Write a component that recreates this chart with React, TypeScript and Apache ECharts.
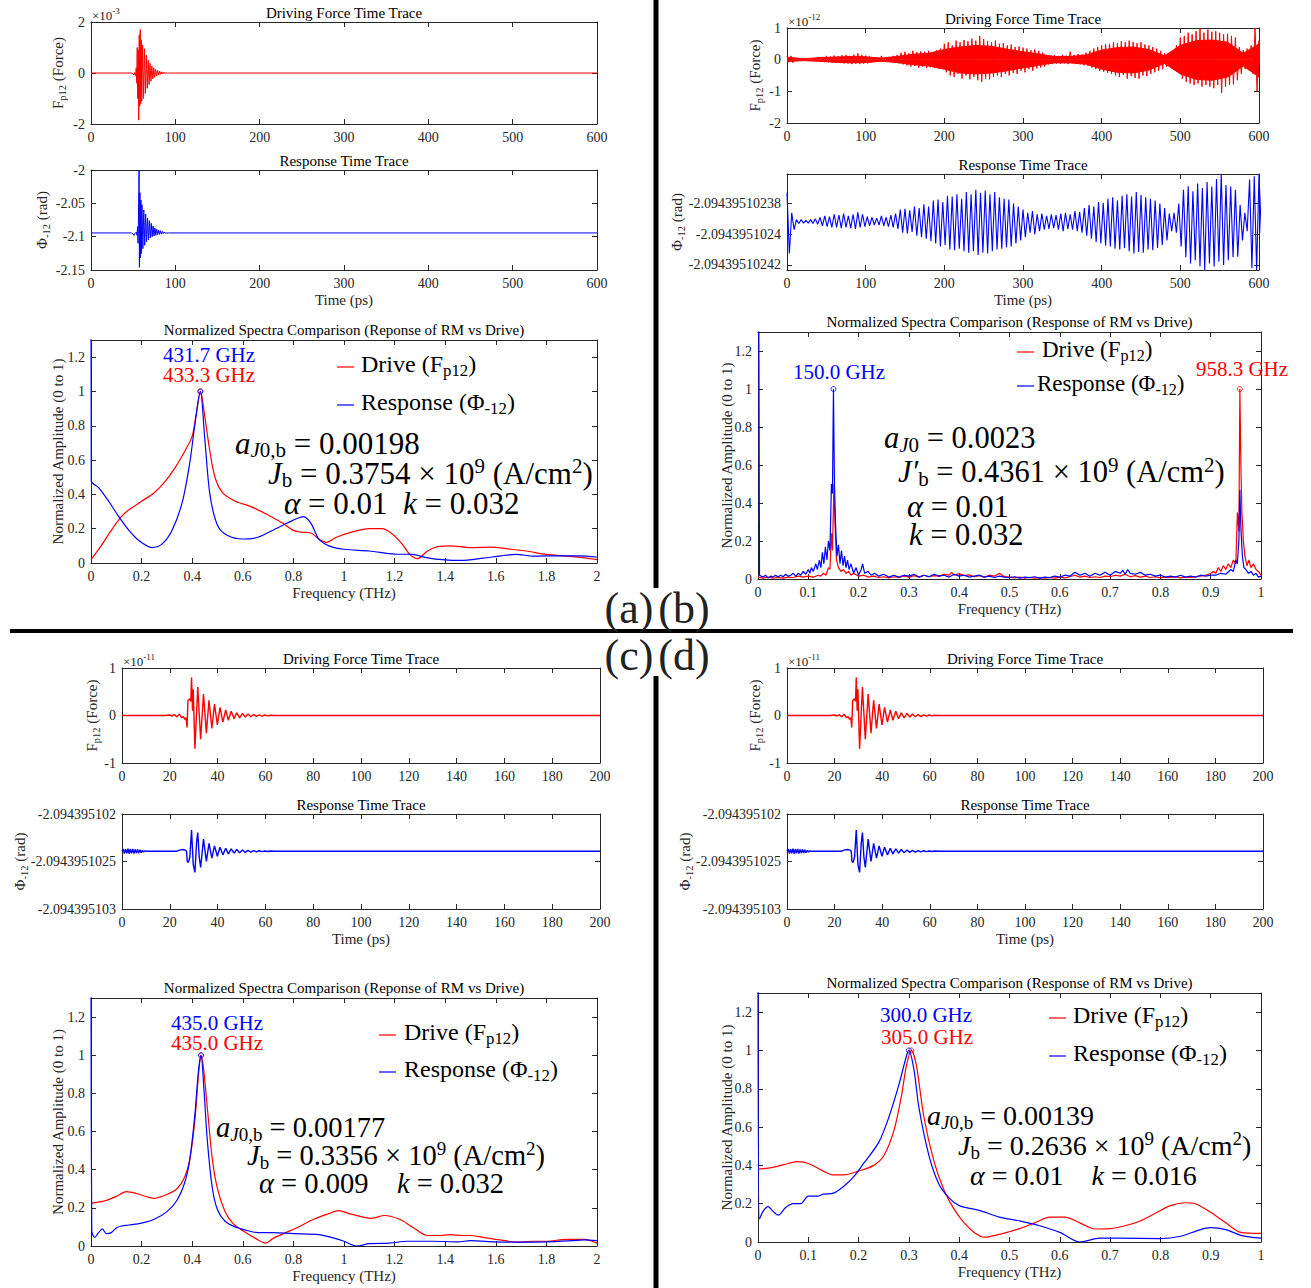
import React, { useEffect, useRef } from "react";
import * as echarts from "echarts";

const SERIF = "'Liberation Serif', 'Times New Roman', Times, serif";
const AXIS_COLOR = "#262626";
const RED = "#ff0000";
const BLUE = "#0000ff";

// ================= DATA =================
const AMP_TICKS = [0, 0.2, 0.4, 0.6, 0.8, 1, 1.2];
const FREQ2_TICKS = [0, 0.2, 0.4, 0.6, 0.8, 1, 1.2, 1.4, 1.6, 1.8, 2];
const FREQ1_TICKS = [0, 0.1, 0.2, 0.3, 0.4, 0.5, 0.6, 0.7, 0.8, 0.9, 1];
const TIME600_TICKS = [0, 100, 200, 300, 400, 500, 600];
const TIME200_TICKS = [0, 20, 40, 60, 80, 100, 120, 140, 160, 180, 200];

// ---- panel (a) ----
const A_FORCE_TICKS = [-2, 0, 2]; // x1e-3
const A_RESP_TICKS = [-2.15, -2.1, -2.05, -2];
// time (ps), force (x1e-3)
const A_FORCE: [number, number][] = [
  [0, 0], [49, 0], [50, -0.04], [51, -0.08], [52, 0.02], [53, -0.1], [53.6, 0.2], [54.2, -0.4],
  [54.8, 1.0], [55.4, -1.0], [56, 0.9], [56.6, -1.85], [57.2, 1.5], [57.8, -1.3], [58.4, 1.7],
  [59, -1.2], [59.6, 1.3], [60.2, -1.1], [61.2, 1.1], [62.3, -1.0], [63.4, 0.95], [64.5, -0.8],
  [65.6, 0.7], [66.7, -0.6], [67.8, 0.5], [68.9, -0.45], [70, 0.38], [71.1, -0.32], [72.2, 0.27],
  [73.3, -0.23], [74.4, 0.2], [75.5, -0.17], [76.6, 0.14], [77.7, -0.12], [78.8, 0.1], [79.9, -0.08],
  [81, 0.07], [82.1, -0.06], [83.2, 0.05], [84.3, -0.04], [85.4, 0.035], [86.5, -0.03], [87.6, 0.025],
  [88.7, -0.02], [90, 0.015], [91, -0.01], [93, 0], [600, 0],
];
// time (ps), phase (rad)
const A_RESP: [number, number][] = [
  [0, -2.0944], [48, -2.0944], [50, -2.096], [51, -2.098], [52, -2.095], [53, -2.0944], [54, -2.093],
  [54.6, -2.098], [55.2, -2.085], [55.8, -2.11], [56.4, -2.06], [57, -2.0], [57.4, -2.146], [58.0, -2.034],
  [58.6, -2.132], [59.2, -2.045], [59.8, -2.125], [60.4, -2.052], [61.5, -2.118], [62.6, -2.06],
  [63.7, -2.113], [64.8, -2.066], [65.9, -2.108], [67, -2.072], [68.1, -2.105], [69.2, -2.076],
  [70.3, -2.102], [71.4, -2.08], [72.5, -2.1], [73.6, -2.084], [74.7, -2.099], [75.8, -2.087],
  [76.9, -2.098], [78, -2.089], [79.1, -2.097], [80.2, -2.09], [81.3, -2.0965], [82.4, -2.091],
  [83.5, -2.096], [84.6, -2.092], [85.7, -2.0955], [86.8, -2.093], [88, -2.095], [89, -2.0938],
  [90, -2.0948], [92, -2.0944], [600, -2.0944],
];
// frequency (THz), normalized amplitude
const A_SPEC_DRIVE: [number, number][] = [
  [0, 0.02], [0.04, 0.1], [0.08, 0.19], [0.12, 0.27], [0.15, 0.31], [0.2, 0.36], [0.25, 0.41],
  [0.29, 0.47], [0.33, 0.55], [0.37, 0.65], [0.4, 0.74], [0.415, 0.86], [0.433, 1], [0.45, 0.85],
  [0.47, 0.65], [0.49, 0.5], [0.52, 0.41], [0.57, 0.36], [0.63, 0.33], [0.7, 0.28], [0.76, 0.23],
  [0.8, 0.19], [0.83, 0.18], [0.87, 0.175], [0.9, 0.14], [0.93, 0.12], [0.97, 0.15], [1.03, 0.18],
  [1.1, 0.2], [1.15, 0.2], [1.19, 0.17], [1.23, 0.11], [1.26, 0.05], [1.29, 0.025], [1.33, 0.07],
  [1.37, 0.095], [1.42, 0.1], [1.5, 0.09], [1.58, 0.093], [1.66, 0.08], [1.72, 0.07], [1.8, 0.05],
  [1.88, 0.04], [1.95, 0.03], [2, 0.02],
];
const A_SPEC_RESP: [number, number][] = [
  [0, 2.5], [0.001, 0.48], [0.03, 0.44], [0.07, 0.36], [0.11, 0.27], [0.15, 0.19], [0.19, 0.13],
  [0.24, 0.09], [0.28, 0.11], [0.32, 0.19], [0.36, 0.35], [0.39, 0.58], [0.41, 0.8], [0.432, 1],
  [0.45, 0.72], [0.47, 0.4], [0.5, 0.22], [0.54, 0.16], [0.6, 0.14], [0.66, 0.15], [0.73, 0.2],
  [0.8, 0.25], [0.84, 0.27], [0.87, 0.23], [0.9, 0.14], [0.94, 0.1], [1.0, 0.08], [1.1, 0.07],
  [1.2, 0.052], [1.27, 0.05], [1.33, 0.03], [1.4, 0.018], [1.46, 0.015], [1.55, 0.028],
  [1.62, 0.042], [1.68, 0.05], [1.75, 0.04], [1.85, 0.042], [1.93, 0.042], [2, 0.035],
];
const A_PEAK_DRIVE: [number, number] = [0.4333, 1];
const A_PEAK_RESP: [number, number] = [0.4317, 1];

// ---- panel (b) ----
const B_FORCE_TICKS = [-2, -1, 0, 1]; // x1e-12
const B_FORCE_STEP = 5; // ps between successive peak/trough pairs
// force spike peaks / troughs (x1e-12), one pair per 5 ps, t = 0..600
const B_FORCE_UP = [
  0.10, 0.12, 0.06, 0.04, 0.03, 0.04, 0.03, 0.05, 0.08, 0.09,
  0.12, 0.10, 0.13, 0.11, 0.14, 0.15, 0.12, 0.16, 0.20, 0.15,
  0.13, 0.10, 0.06, 0.05, 0.12, 0.07, 0.09, 0.12, 0.15, 0.22,
  0.25, 0.20, 0.28, 0.24, 0.26, 0.25, 0.28, 0.24, 0.30, 0.35,
  0.50, 0.55, 0.45, 0.60, 0.55, 0.62, 0.58, 0.66, 0.60, 0.75,
  0.65, 0.58, 0.55, 0.60, 0.50, 0.52, 0.45, 0.48, 0.40, 0.42,
  0.38, 0.35, 0.30, 0.32, 0.28, 0.22, 0.15, 0.12, 0.14, 0.12,
  0.15, 0.13, 0.25, 0.15, 0.18, 0.16, 0.22, 0.28, 0.35, 0.40,
  0.45, 0.48, 0.50, 0.55, 0.52, 0.58, 0.55, 0.60, 0.56, 0.52,
  0.55, 0.48, 0.45, 0.40, 0.35, 0.28, 0.20, 0.12, 0.10, 0.45,
  0.70, 0.75, 0.85, 0.80, 0.90, 1.00, 0.85, 0.95, 0.88, 0.90,
  0.85, 0.80, 0.82, 0.75, 0.70, 0.40, 0.30, 0.35, 0.45, 1.00,
  0.60,
];
const B_FORCE_DN = [
  -0.08, -0.10, -0.05, -0.03, -0.03, -0.03, -0.04, -0.04, -0.06, -0.08,
  -0.08, -0.09, -0.10, -0.11, -0.12, -0.12, -0.14, -0.13, -0.14, -0.13,
  -0.12, -0.10, -0.06, -0.05, -0.04, -0.06, -0.08, -0.10, -0.12, -0.15,
  -0.18, -0.22, -0.20, -0.25, -0.22, -0.27, -0.24, -0.26, -0.28, -0.30,
  -0.40, -0.50, -0.55, -0.45, -0.60, -0.50, -0.62, -0.55, -0.65, -0.70,
  -0.60, -0.62, -0.55, -0.50, -0.55, -0.45, -0.50, -0.42, -0.45, -0.35,
  -0.40, -0.30, -0.35, -0.28, -0.25, -0.22, -0.15, -0.14, -0.12, -0.13,
  -0.12, -0.14, -0.12, -0.14, -0.15, -0.18, -0.20, -0.25, -0.30, -0.35,
  -0.38, -0.42, -0.45, -0.50, -0.55, -0.48, -0.60, -0.52, -0.58, -0.60,
  -0.50, -0.52, -0.45, -0.40, -0.35, -0.30, -0.22, -0.12, -0.10, -0.30,
  -0.60, -0.70, -0.75, -0.80, -0.75, -0.85, -0.80, -0.85, -0.90, -0.80,
  -1.05, -0.85, -0.80, -0.78, -0.65, -0.45, -0.30, -0.28, -0.45, -1.00,
  -0.90,
];
// dense core of the force trace (x1e-12), one value per 20 ps, t = 0..600
const B_CORE_STEP = 20;
const B_CORE_UP = [
  0.08, 0.03, 0.06, 0.08, 0.10, 0.09, 0.05, 0.10, 0.17, 0.20,
  0.32, 0.40, 0.45, 0.42, 0.33, 0.25, 0.18, 0.10, 0.10, 0.15,
  0.30, 0.38, 0.40, 0.32, 0.12, 0.45, 0.60, 0.62, 0.55, 0.20,
  0.50,
];
const B_CORE_DN = [
  -0.06, -0.03, -0.05, -0.08, -0.10, -0.09, -0.05, -0.09, -0.16, -0.20,
  -0.30, -0.42, -0.45, -0.42, -0.35, -0.26, -0.18, -0.10, -0.10, -0.14,
  -0.30, -0.40, -0.42, -0.33, -0.12, -0.45, -0.62, -0.65, -0.55, -0.20,
  -0.55,
];
// response: offsets in units of 1e-11 rad from -2.0943951024
const B_RESP_TICKS = [-2, 0, 2];
const B_RESP_TICK_LABELS = ["-2.09439510242", "-2.0943951024", "-2.09439510238"];
const B_RESP_STEP = 6;
const B_RESP_UP = [
  2.7, 1.4, 0.95, 0.95, 0.9, 0.95, 1.0, 1.1, 1.2, 1.15,
  1.3, 1.25, 1.35, 1.2, 1.3, 1.43, 1.3, 1.15, 1.1, 1.05,
  1.2, 1.1, 1.25, 1.35, 1.6, 1.65, 1.55, 1.8, 1.7, 1.95,
  1.8, 2.2, 2.25, 2.1, 2.5, 2.45, 2.6, 2.3, 2.75, 2.6,
  2.9, 2.7, 2.85, 2.6, 2.75, 2.4, 2.3, 2.25, 2.0, 1.8,
  1.6, 1.4, 1.5, 1.3, 1.35, 1.2, 1.3, 1.25, 1.35, 1.4,
  1.3, 1.5, 1.45, 1.7, 1.9, 1.8, 2.1, 2.05, 2.3, 2.4,
  2.2, 2.5, 2.6, 2.45, 2.75, 2.55, 2.4, 2.3, 2.2, 2.0,
  1.7, 1.35, 1.4, 2.0, 2.9, 3.12, 2.8, 3.3, 3.0, 3.4,
  3.1, 3.6, 3.95, 3.2, 3.1, 2.9, 1.9, 1.4, 3.56, 3.78,
  3.9,
];
const B_RESP_DN = [
  -1.25, 0.3, 0.7, 0.72, 0.72, 0.7, 0.65, 0.55, 0.5, 0.45,
  0.45, 0.4, 0.45, 0.4, 0.35, 0.45, 0.5, 0.55, 0.6, 0.6,
  0.55, 0.5, 0.45, 0.35, 0.1, 0.05, 0.15, -0.1, -0.2, -0.3,
  -0.45, -0.6, -0.8, -0.7, -1.0, -1.05, -0.95, -1.1, -1.2, -1.1,
  -1.36, -1.2, -1.25, -1.1, -1.0, -0.95, -0.85, -0.8, -0.6, -0.4,
  -0.2, 0.1, 0.0, 0.2, 0.3, 0.35, 0.4, 0.3, 0.2, 0.35,
  0.3, 0.2, 0.1, -0.1, -0.3, -0.5, -0.6, -0.75, -0.8, -0.95,
  -1.0, -0.9, -1.1, -1.25, -1.15, -1.2, -1.0, -1.05, -0.9, -0.7,
  -0.4, 0.2, 0.1, -0.8, -1.5, -1.9, -1.7, -2.1, -2.35, -1.9,
  -2.1, -1.8, -2.0, -1.7, -1.5, -1.47, -0.4, 0.2, -2.2, -2.35,
  0.07,
];
const B_SPEC_DRIVE: [number, number][] = [
  [0, 0.01], [0.01, 0.005], [0.02, 0.01], [0.03, 0.005], [0.04, 0.008], [0.05, 0.005], [0.06, 0.01],
  [0.07, 0.008], [0.08, 0.015], [0.09, 0.01], [0.1, 0.015], [0.11, 0.01], [0.12, 0.02], [0.125, 0.015],
  [0.13, 0.03], [0.135, 0.02], [0.14, 0.06], [0.143, 0.05], [0.146, 0.24], [0.148, 0.15], [0.151, 0.5],
  [0.153, 0.3], [0.156, 0.1], [0.16, 0.06], [0.165, 0.04], [0.17, 0.05], [0.175, 0.03], [0.18, 0.04],
  [0.185, 0.02], [0.19, 0.03], [0.2, 0.015], [0.21, 0.02], [0.22, 0.01], [0.23, 0.015], [0.24, 0.008],
  [0.25, 0.012], [0.26, 0.006], [0.27, 0.012], [0.28, 0.008], [0.29, 0.015], [0.3, 0.01], [0.31, 0.018],
  [0.32, 0.01], [0.33, 0.02], [0.34, 0.012], [0.35, 0.018], [0.36, 0.015], [0.37, 0.025], [0.38, 0.02],
  [0.385, 0.035], [0.39, 0.02], [0.4, 0.028], [0.41, 0.018], [0.42, 0.022], [0.43, 0.012], [0.44, 0.018],
  [0.45, 0.01], [0.46, 0.02], [0.47, 0.015], [0.48, 0.03], [0.49, 0.012], [0.5, 0.01], [0.51, 0.006],
  [0.52, 0.01], [0.53, 0.005], [0.54, 0.008], [0.55, 0.005], [0.56, 0.007], [0.57, 0.004], [0.58, 0.008],
  [0.59, 0.005], [0.6, 0.01], [0.61, 0.006], [0.62, 0.012], [0.63, 0.02], [0.64, 0.01], [0.65, 0.015],
  [0.66, 0.008], [0.67, 0.012], [0.68, 0.008], [0.69, 0.015], [0.7, 0.012], [0.71, 0.02], [0.72, 0.015],
  [0.73, 0.025], [0.74, 0.012], [0.75, 0.018], [0.76, 0.01], [0.77, 0.015], [0.78, 0.008], [0.79, 0.012],
  [0.8, 0.006], [0.81, 0.01], [0.82, 0.008], [0.83, 0.012], [0.84, 0.006], [0.85, 0.01], [0.86, 0.008],
  [0.87, 0.012], [0.88, 0.015], [0.89, 0.02], [0.9, 0.03], [0.905, 0.04], [0.91, 0.03], [0.915, 0.06],
  [0.92, 0.04], [0.925, 0.07], [0.93, 0.05], [0.935, 0.08], [0.94, 0.06], [0.945, 0.1], [0.95, 0.08],
  [0.953, 0.35], [0.956, 0.25], [0.958, 1.0], [0.96, 0.6], [0.962, 0.35], [0.965, 0.2], [0.968, 0.12],
  [0.972, 0.07], [0.976, 0.1], [0.98, 0.06], [0.985, 0.08], [0.99, 0.05], [0.995, 0.04], [1, 0.02],
];
const B_SPEC_RESP: [number, number][] = [
  [0, 3], [0.003, 0.02], [0.01, 0.01], [0.015, 0.02], [0.02, 0.005], [0.025, 0.015], [0.03, 0.01],
  [0.035, 0.02], [0.04, 0.01], [0.045, 0.02], [0.05, 0.012], [0.055, 0.025], [0.06, 0.015], [0.065, 0.02],
  [0.07, 0.03], [0.075, 0.015], [0.08, 0.03], [0.085, 0.02], [0.09, 0.04], [0.095, 0.025], [0.1, 0.05],
  [0.103, 0.03], [0.106, 0.06], [0.11, 0.04], [0.115, 0.08], [0.118, 0.05], [0.122, 0.1], [0.125, 0.06],
  [0.128, 0.14], [0.131, 0.08], [0.134, 0.17], [0.137, 0.1], [0.14, 0.2], [0.143, 0.15], [0.146, 0.5],
  [0.148, 0.45], [0.15, 1.0], [0.152, 0.5], [0.154, 0.3], [0.157, 0.12], [0.16, 0.18], [0.163, 0.08],
  [0.166, 0.15], [0.169, 0.07], [0.172, 0.12], [0.175, 0.06], [0.178, 0.1], [0.181, 0.05], [0.185, 0.08],
  [0.19, 0.03], [0.195, 0.06], [0.2, 0.02], [0.205, 0.05], [0.208, 0.08], [0.212, 0.03], [0.218, 0.04],
  [0.225, 0.02], [0.232, 0.03], [0.24, 0.015], [0.25, 0.025], [0.26, 0.01], [0.27, 0.02], [0.28, 0.01],
  [0.29, 0.02], [0.3, 0.015], [0.31, 0.025], [0.32, 0.01], [0.33, 0.02], [0.34, 0.012], [0.35, 0.025],
  [0.36, 0.015], [0.37, 0.02], [0.38, 0.01], [0.39, 0.025], [0.4, 0.015], [0.41, 0.02], [0.42, 0.01],
  [0.43, 0.015], [0.44, 0.02], [0.45, 0.01], [0.46, 0.015], [0.47, 0.008], [0.48, 0.015], [0.49, 0.01],
  [0.5, 0.008], [0.51, 0.012], [0.52, 0.005], [0.53, 0.01], [0.54, 0.008], [0.55, 0.012], [0.56, 0.005],
  [0.57, 0.01], [0.58, 0.008], [0.59, 0.015], [0.6, 0.01], [0.61, 0.02], [0.62, 0.015], [0.63, 0.035],
  [0.64, 0.02], [0.65, 0.03], [0.66, 0.015], [0.67, 0.03], [0.68, 0.02], [0.69, 0.035], [0.7, 0.02],
  [0.71, 0.04], [0.72, 0.03], [0.725, 0.045], [0.73, 0.025], [0.735, 0.05], [0.74, 0.03], [0.75, 0.025],
  [0.76, 0.035], [0.77, 0.02], [0.78, 0.025], [0.79, 0.015], [0.8, 0.02], [0.81, 0.01], [0.82, 0.015],
  [0.83, 0.01], [0.84, 0.02], [0.85, 0.01], [0.86, 0.015], [0.87, 0.01], [0.88, 0.02], [0.89, 0.015],
  [0.9, 0.02], [0.91, 0.02], [0.92, 0.03], [0.93, 0.025], [0.94, 0.05], [0.945, 0.04], [0.95, 0.1],
  [0.953, 0.08], [0.956, 0.2], [0.958, 0.47], [0.96, 0.27], [0.963, 0.12], [0.966, 0.06], [0.97, 0.05],
  [0.975, 0.03], [0.98, 0.04], [0.985, 0.02], [0.99, 0.03], [0.995, 0.01], [1, 0.015],
];
const B_PEAK_DRIVE: [number, number] = [0.958, 1];
const B_PEAK_RESP: [number, number] = [0.15, 1];

// ---- panels (c) and (d): time traces (identical) ----
const CD_FORCE_TICKS = [-1, 0, 1]; // x1e-11
const CD_FORCE: [number, number][] = [
  [0, 0], [18, 0], [20, 0.01], [21, -0.01], [22, 0.02], [23, -0.03], [24, 0.03], [25, -0.05],
  [25.6, -0.02], [26.3, -0.08], [26.8, -0.05], [27.2, -0.25], [27.6, 0.32], [28.4, 0.35], [28.8, 0.3],
  [29.1, 0.8], [29.5, 0.1], [29.8, 0.55], [30.5, -0.7], [31.7, 0.6], [32.9, -0.5], [34.1, 0.45],
  [35.3, -0.37], [36.4, 0.32], [37.6, -0.27], [38.7, 0.24], [39.9, -0.2], [41.0, 0.17], [42.2, -0.14],
  [43.4, 0.12], [44.5, -0.1], [45.7, 0.09], [46.9, -0.07], [48, 0.06], [49.2, -0.05], [50.4, 0.045],
  [51.6, -0.035], [52.7, 0.03], [53.9, -0.025], [55.1, 0.02], [56.2, -0.018], [57.4, 0.015],
  [58.6, -0.012], [59.7, 0.01], [61, -0.008], [62, 0.006], [64, 0], [200, 0],
];
// response offsets in units of 1e-11 rad from -2.0943951025
const CD_RESP_TICKS = [-50, 0, 50];
const CD_RESP_TICK_LABELS = ["-2.094395103", "-2.0943951025", "-2.094395102"];
const CD_RESP: [number, number][] = [
  [0, 10.8], [0.5, 13.2], [1, 8.4], [1.5, 13], [2, 8.6], [2.5, 13.4], [3, 8.2], [3.5, 13.1], [4, 8.5],
  [4.5, 13.3], [5, 8.3], [5.5, 12.8], [6, 8.8], [6.5, 12.6], [7, 9], [7.5, 12.4], [8, 9.3], [8.5, 11.8],
  [9, 10], [9.5, 11.2], [10, 10.8], [23, 10.8], [24, 12], [25.5, 12.6], [26.5, 12], [27, 10.8],
  [27.3, 0], [27.8, -1], [28.4, 5], [29.1, 33.2], [29.8, -3], [30.5, -11.5], [31.2, 20], [31.7, 30.4],
  [32.3, 5], [32.9, -6.3], [34.1, 23.5], [35.3, 0], [36.4, 19], [37.6, 3.5], [38.7, 16.5], [39.9, 5.5],
  [41, 15], [42.2, 7], [43.4, 14], [44.5, 8], [45.7, 13.2], [46.9, 8.8], [48, 12.6], [49.2, 9.3],
  [50.4, 12.2], [51.6, 9.6], [52.7, 11.8], [53.9, 9.9], [55.1, 11.5], [56.2, 10.2], [57.4, 11.3],
  [58.6, 10.4], [59.7, 11.1], [61, 10.5], [62, 11], [64, 10.8], [200, 10.8],
];
const C_SPEC_DRIVE: [number, number][] = [
  [0, 0.225], [0.05, 0.235], [0.1, 0.26], [0.14, 0.285], [0.18, 0.275], [0.25, 0.25], [0.3, 0.27],
  [0.34, 0.3], [0.37, 0.36], [0.39, 0.45], [0.41, 0.65], [0.425, 0.9], [0.435, 1], [0.445, 0.93],
  [0.46, 0.72], [0.48, 0.45], [0.5, 0.3], [0.53, 0.18], [0.56, 0.12], [0.6, 0.08], [0.65, 0.04],
  [0.69, 0.015], [0.72, 0.04], [0.77, 0.07], [0.82, 0.1], [0.88, 0.14], [0.94, 0.17], [0.98, 0.185],
  [1.02, 0.17], [1.08, 0.15], [1.11, 0.145], [1.16, 0.16], [1.22, 0.14], [1.27, 0.1], [1.33, 0.055],
  [1.38, 0.055], [1.42, 0.06], [1.47, 0.055], [1.5, 0.055], [1.55, 0.045], [1.6, 0.035], [1.65, 0.025],
  [1.7, 0.02], [1.75, 0.025], [1.8, 0.025], [1.88, 0.035], [1.95, 0.035], [2, 0.015],
];
const C_SPEC_RESP: [number, number][] = [
  [0, 1.5], [0.003, 0.08], [0.015, 0.045], [0.03, 0.07], [0.045, 0.09], [0.06, 0.065], [0.08, 0.07],
  [0.1, 0.095], [0.12, 0.105], [0.15, 0.11], [0.2, 0.12], [0.25, 0.14], [0.3, 0.18], [0.34, 0.24],
  [0.37, 0.33], [0.39, 0.45], [0.41, 0.68], [0.425, 0.92], [0.435, 1], [0.445, 0.85], [0.46, 0.55],
  [0.48, 0.3], [0.5, 0.19], [0.53, 0.13], [0.57, 0.1], [0.62, 0.08], [0.66, 0.07], [0.72, 0.07],
  [0.8, 0.065], [0.9, 0.06], [0.95, 0.045], [1, 0.025], [1.05, 0.0], [1.1, 0.012], [1.18, 0.015],
  [1.25, 0.025], [1.35, 0.025], [1.45, 0.022], [1.5, 0.028], [1.6, 0.022], [1.7, 0.02], [1.8, 0.022],
  [1.9, 0.028], [1.95, 0.032], [2, 0.028],
];
const C_PEAK_DRIVE: [number, number] = [0.435, 1];
const C_PEAK_RESP: [number, number] = [0.435, 1];

const D_SPEC_DRIVE: [number, number][] = [
  [0, 0.38], [0.03, 0.39], [0.06, 0.41], [0.08, 0.42], [0.1, 0.41], [0.13, 0.37], [0.15, 0.35],
  [0.17, 0.35], [0.2, 0.37], [0.23, 0.4], [0.25, 0.45], [0.27, 0.58], [0.285, 0.76], [0.295, 0.92],
  [0.305, 1], [0.315, 0.92], [0.33, 0.65], [0.35, 0.42], [0.37, 0.27], [0.39, 0.17], [0.41, 0.1],
  [0.43, 0.05], [0.45, 0.025], [0.48, 0.04], [0.52, 0.07], [0.55, 0.1], [0.58, 0.13], [0.61, 0.13],
  [0.64, 0.1], [0.67, 0.068], [0.7, 0.07], [0.73, 0.085], [0.76, 0.11], [0.79, 0.15], [0.82, 0.19],
  [0.85, 0.205], [0.87, 0.2], [0.9, 0.155], [0.93, 0.1], [0.96, 0.05], [1, 0.045],
];
const D_SPEC_RESP: [number, number][] = [
  [0, 1.5], [0.003, 0.12], [0.01, 0.16], [0.02, 0.185], [0.03, 0.16], [0.04, 0.14], [0.055, 0.18],
  [0.07, 0.2], [0.085, 0.2], [0.1, 0.24], [0.12, 0.24], [0.13, 0.25], [0.15, 0.255], [0.17, 0.29],
  [0.19, 0.34], [0.21, 0.41], [0.24, 0.52], [0.26, 0.65], [0.28, 0.82], [0.295, 0.97], [0.3, 1],
  [0.31, 0.9], [0.32, 0.7], [0.34, 0.45], [0.36, 0.3], [0.38, 0.23], [0.4, 0.19], [0.44, 0.165],
  [0.48, 0.13], [0.52, 0.11], [0.56, 0.085], [0.6, 0.05], [0.64, 0.0], [0.68, 0.02], [0.72, 0.02],
  [0.8, 0.018], [0.84, 0.03], [0.88, 0.065], [0.9, 0.075], [0.93, 0.065], [0.96, 0.035], [1, 0.02],
];
const D_PEAK_DRIVE: [number, number] = [0.305, 1];
const D_PEAK_RESP: [number, number] = [0.3, 1];

// ================= BUILD =================
function zig(step: number, up: number[], dn: number[]) {
  const out: [number, number][] = [];
  for (let i = 0; i < up.length; i++) {
    out.push([i * step, up[i]]);
    out.push([i * step + step / 2, dn[i]]);
  }
  return out;
}
function onGrid(step: number, vals: number[]) {
  return vals.map((v, i) => [i * step, v]);
}
function nearestLabel(ticks: number[], labels: string[]) {
  return (v: number) => {
    let best = 0;
    for (let i = 1; i < ticks.length; i++) if (Math.abs(ticks[i] - v) < Math.abs(ticks[best] - v)) best = i;
    return labels[best];
  };
}

function buildOption() {
  const grid: any[] = [];
  const xAxis: any[] = [];
  const yAxis: any[] = [];
  const series: any[] = [];
  const el: any[] = [];

  const axis = (gi: number, pos: string, s: any, labels: boolean) => {
    const a: any = {
      type: "value", gridIndex: gi, position: pos, min: s.min, max: s.max,
      splitLine: { show: false },
      axisLine: { show: true, onZero: false, lineStyle: { color: AXIS_COLOR, width: 1 } },
      axisTick: { show: true, inside: true, length: 5, customValues: s.ticks, lineStyle: { color: AXIS_COLOR, width: 1 } },
      axisLabel: { show: labels, customValues: s.ticks, color: AXIS_COLOR, fontFamily: SERIF, fontSize: 14, margin: 6, hideOverlap: false },
      axisPointer: { show: false },
    };
    if (s.fmt) a.axisLabel.formatter = s.fmt;
    return a;
  };
  const plot = (r: any, xs: any, ys: any) => {
    const gi = grid.length;
    grid.push({ left: r.l, top: r.t, width: r.w, height: r.h, show: false, containLabel: false });
    const xi = xAxis.length;
    xAxis.push(axis(gi, "bottom", xs, true), axis(gi, "top", xs, false));
    const yi = yAxis.length;
    yAxis.push(axis(gi, "left", ys, true), axis(gi, "right", ys, false));
    return { xi, yi };
  };
  const line = (p: any, data: any, color: string, width = 1, smooth: any = false) =>
    series.push({
      type: "line", xAxisIndex: p.xi, yAxisIndex: p.yi, data, showSymbol: false, symbol: "none",
      smooth, clip: true, silent: true, lineStyle: { color, width }, z: 2,
    });
  const band = (p: any, data: any, color: string) =>
    series.push({
      type: "line", xAxisIndex: p.xi, yAxisIndex: p.yi, data, showSymbol: false, symbol: "none",
      clip: true, silent: true, lineStyle: { color, width: 1 }, areaStyle: { color, opacity: 1, origin: 0 }, z: 1,
    });
  const marker = (p: any, pt: [number, number], color: string) =>
    series.push({
      type: "scatter", xAxisIndex: p.xi, yAxisIndex: p.yi, data: [pt], symbol: "circle", symbolSize: 5,
      silent: true, clip: false, itemStyle: { color: "rgba(255,255,255,0)", borderColor: color, borderWidth: 1 }, z: 5,
    });
  const text = (x: number, y: number, t: string, o: any = {}) => {
    const style: any = {
      text: t, fill: o.fill || "#000", fontFamily: SERIF, fontSize: o.size || 15,
      align: o.align || "center", verticalAlign: "middle",
    };
    if (o.rich) style.rich = o.rich;
    if (o.lh) style.lineHeight = o.lh;
    el.push({ type: "text", x, y, rotation: o.rot || 0, silent: true, z: 100, style });
  };
  const seg = (x1: number, y1: number, x2: number, y2: number, color: string, w: number) =>
    el.push({ type: "line", silent: true, z: 100, shape: { x1, y1, x2, y2 }, style: { stroke: color, lineWidth: w } });

  const richName = {
    n: { fontFamily: SERIF, fontSize: 15, lineHeight: 18, fill: "#262626" },
    s: { fontFamily: SERIF, fontSize: 10.5, height: 10, lineHeight: 10, verticalAlign: "bottom", fill: "#262626" },
  };
  const richExp = {
    n: { fontFamily: SERIF, fontSize: 13, lineHeight: 16, fill: "#262626" },
    p: { fontFamily: SERIF, fontSize: 9, height: 8, lineHeight: 8, verticalAlign: "top", fill: "#262626" },
  };
  const richLeg = (fs: number) => ({
    n: { fontFamily: SERIF, fontSize: fs, lineHeight: 28, fill: "#000" },
    s: { fontFamily: SERIF, fontSize: fs * 0.7, height: 16, lineHeight: 16, verticalAlign: "bottom", fill: "#000" },
  });
  const richMath = (fs: number, lh: number) => {
    const sub = Math.round(fs * 0.68);
    const h = lh - 14; // offset of sub/superscripts = (lh - h) / 2 = 7 px
    return {
      mi: { fontFamily: SERIF, fontSize: fs, fontStyle: "italic", lineHeight: lh, fill: "#000" },
      mr: { fontFamily: SERIF, fontSize: fs, lineHeight: lh, fill: "#000" },
      si: { fontFamily: SERIF, fontSize: sub, fontStyle: "italic", height: h, lineHeight: h, verticalAlign: "bottom", fill: "#000" },
      sr: { fontFamily: SERIF, fontSize: sub, height: h, lineHeight: h, verticalAlign: "bottom", fill: "#000" },
      sp: { fontFamily: SERIF, fontSize: sub, height: h, lineHeight: h, verticalAlign: "top", fill: "#000" },
    };
  };
  const FORCE_NAME = "{n|F}{s|p12}{n| (Force)}";
  const PHI_NAME = "{n|Φ}{s|-12}{n| (rad)}";
  const AMP_NAME = "Normalized Amplitude (0 to 1)";
  const ROT = Math.PI / 2;

  const timePair = (cfg: any) => {
    const p1 = plot(cfg.r1, cfg.xs, cfg.ys1);
    const p2 = plot(cfg.r2, cfg.xs, cfg.ys2);
    const cx1 = cfg.r1.l + cfg.r1.w / 2;
    const cx2 = cfg.r2.l + cfg.r2.w / 2;
    text(cx1, cfg.r1.t - 9, "Driving Force Time Trace", { size: 15 });
    text(cfg.r1.l + 1, cfg.r1.t - 7, cfg.exp, { rich: richExp, align: "left", size: 13 });
    text(cfg.y1x, cfg.r1.t + cfg.r1.h / 2, FORCE_NAME, { rich: richName, rot: ROT });
    text(cx2, cfg.r2.t - 9, "Response Time Trace", { size: 15 });
    text(cfg.y2x, cfg.r2.t + cfg.r2.h / 2, PHI_NAME, { rich: richName, rot: ROT });
    text(cx2, cfg.r2.t + cfg.r2.h + 30, "Time (ps)", { size: 15, fill: "#262626" });
    return { p1, p2 };
  };

  const specPanel = (cfg: any) => {
    const p = plot(cfg.r, cfg.xs, { min: 0, max: 1.3, ticks: AMP_TICKS });
    line(p, cfg.drive, RED, 1.2, cfg.smooth);
    line(p, cfg.resp, BLUE, 1.2, cfg.smooth);
    marker(p, cfg.peakDrive, RED);
    marker(p, cfg.peakResp, BLUE);
    const cx = cfg.r.l + cfg.r.w / 2;
    text(cx, cfg.r.t - 10, cfg.title, { size: 15 });
    text(cfg.yx, cfg.r.t + cfg.r.h / 2, AMP_NAME, { rot: ROT, size: 15, fill: "#262626" });
    text(cx, cfg.r.t + cfg.r.h + 30, "Frequency (THz)", { size: 15, fill: "#262626" });
    for (const g of cfg.ghz) text(g.x, g.y, g.t, { size: 21, fill: g.c, lh: 19 });
    const lr = richLeg(cfg.legSize);
    seg(cfg.leg.x, cfg.leg.y1 + 3, cfg.leg.x + 17, cfg.leg.y1 + 3, RED, 1.2);
    text(cfg.leg.tx, cfg.leg.y1, "{n|Drive (F}{s|p12}{n|)}", { rich: lr, align: "left", size: cfg.legSize });
    seg(cfg.leg.x, cfg.leg.y2 + 3, cfg.leg.x + 17, cfg.leg.y2 + 3, BLUE, 1.2);
    text(cfg.leg.tx2 ?? cfg.leg.tx, cfg.leg.y2, "{n|Response (Φ}{s|-12}{n|)}", { rich: lr, align: "left", size: cfg.legSize });
    const mr = richMath(cfg.mathSize, cfg.mathLH);
    for (const f of cfg.formula) text(f.x, f.y, f.t, { rich: mr, align: "left", size: cfg.mathSize });
  };

  // ---------------- (a) ----------------
  const a = timePair({
    r1: { l: 91, t: 22, w: 506, h: 102 }, r2: { l: 91, t: 170, w: 506, h: 100 },
    xs: { min: 0, max: 600, ticks: TIME600_TICKS },
    ys1: { min: -2, max: 2, ticks: A_FORCE_TICKS },
    ys2: { min: -2.15, max: -2, ticks: A_RESP_TICKS },
    exp: "{n|×10}{p|-3}", y1x: 58, y2x: 42,
  });
  line(a.p1, A_FORCE, RED, 1);
  line(a.p2, A_RESP, BLUE, 1);
  specPanel({
    r: { l: 91, t: 340, w: 506, h: 223 }, xs: { min: 0, max: 2, ticks: FREQ2_TICKS },
    drive: A_SPEC_DRIVE, resp: A_SPEC_RESP, peakDrive: A_PEAK_DRIVE, peakResp: A_PEAK_RESP, smooth: 0.3,
    title: "Normalized Spectra Comparison (Reponse of RM vs Drive)", yx: 58,
    ghz: [{ x: 209, y: 355, t: "431.7 GHz", c: BLUE }, { x: 209, y: 375, t: "433.3 GHz", c: RED }],
    leg: { x: 337, tx: 361, y1: 364, y2: 402 }, legSize: 24, mathSize: 31, mathLH: 29,
    formula: [
      { x: 235, y: 443, t: "{mi|a}{si|J}{sr|0,b}{mr| = 0.00198}" },
      { x: 268, y: 473, t: "{mi|J}{sr|b}{mr| = 0.3754 × 10}{sp|9}{mr| (A/cm}{sp|2}{mr|)}" },
      { x: 284, y: 503, t: "{mi|α}{mr| = 0.01\u00A0\u00A0}{mi|k}{mr| = 0.032}" },
    ],
  });

  // ---------------- (b) ----------------
  const b = timePair({
    r1: { l: 787, t: 28, w: 472, h: 95 }, r2: { l: 787, t: 174, w: 472, h: 96 },
    xs: { min: 0, max: 600, ticks: TIME600_TICKS },
    ys1: { min: -2, max: 1, ticks: B_FORCE_TICKS },
    ys2: { min: -2.33, max: 3.92, ticks: B_RESP_TICKS, fmt: nearestLabel(B_RESP_TICKS, B_RESP_TICK_LABELS) },
    exp: "{n|×10}{p|-12}", y1x: 755, y2x: 677,
  });
  band(b.p1, onGrid(B_CORE_STEP, B_CORE_UP), RED);
  band(b.p1, onGrid(B_CORE_STEP, B_CORE_DN), RED);
  line(b.p1, zig(B_FORCE_STEP, B_FORCE_UP, B_FORCE_DN), RED, 1);
  line(b.p2, zig(B_RESP_STEP, B_RESP_UP, B_RESP_DN), BLUE, 1.1);
  specPanel({
    r: { l: 758, t: 332, w: 503, h: 247 }, xs: { min: 0, max: 1, ticks: FREQ1_TICKS },
    drive: B_SPEC_DRIVE, resp: B_SPEC_RESP, peakDrive: B_PEAK_DRIVE, peakResp: B_PEAK_RESP, smooth: false,
    title: "Normalized Spectra Comparison (Response of RM vs Drive)", yx: 727,
    ghz: [{ x: 839, y: 372, t: "150.0 GHz", c: BLUE }, { x: 1242, y: 369, t: "958.3 GHz", c: RED }],
    leg: { x: 1017, tx: 1042, tx2: 1037, y1: 349, y2: 383 }, legSize: 23, mathSize: 30.5, mathLH: 27,
    formula: [
      { x: 884, y: 438, t: "{mi|a}{si|J}{sr|0}{mr| = 0.0023}" },
      { x: 898, y: 472, t: "{mi|J′}{sr|b}{mr| = 0.4361 × 10}{sp|9}{mr| (A/cm}{sp|2}{mr|)}" },
      { x: 907, y: 507, t: "{mi|α}{mr| = 0.01}" },
      { x: 909, y: 535, t: "{mi|k}{mr| = 0.032}" },
    ],
  });

  // ---------------- (c) ----------------
  const c = timePair({
    r1: { l: 122, t: 668, w: 478, h: 95 }, r2: { l: 122, t: 814, w: 478, h: 95 },
    xs: { min: 0, max: 200, ticks: TIME200_TICKS },
    ys1: { min: -1, max: 1, ticks: CD_FORCE_TICKS },
    ys2: { min: -50, max: 50, ticks: CD_RESP_TICKS, fmt: nearestLabel(CD_RESP_TICKS, CD_RESP_TICK_LABELS) },
    exp: "{n|×10}{p|-11}", y1x: 92, y2x: 20,
  });
  line(c.p1, CD_FORCE, RED, 1.4);
  line(c.p2, CD_RESP, BLUE, 1.4);
  specPanel({
    r: { l: 91, t: 998, w: 506, h: 248 }, xs: { min: 0, max: 2, ticks: FREQ2_TICKS },
    drive: C_SPEC_DRIVE, resp: C_SPEC_RESP, peakDrive: C_PEAK_DRIVE, peakResp: C_PEAK_RESP, smooth: 0.3,
    title: "Normalized Spectra Comparison (Reponse of RM vs Drive)", yx: 58,
    ghz: [{ x: 217, y: 1023, t: "435.0 GHz", c: BLUE }, { x: 217, y: 1043, t: "435.0 GHz", c: RED }],
    leg: { x: 379, tx: 404, y1: 1032, y2: 1069 }, legSize: 24, mathSize: 28.5, mathLH: 27,
    formula: [
      { x: 216, y: 1127, t: "{mi|a}{si|J}{sr|0,b}{mr| = 0.00177}" },
      { x: 247, y: 1155, t: "{mi|J}{sr|b}{mr| = 0.3356 × 10}{sp|9}{mr| (A/cm}{sp|2}{mr|)}" },
      { x: 259, y: 1183, t: "{mi|α}{mr| = 0.009\u00A0\u00A0\u00A0\u00A0}{mi|k}{mr| = 0.032}" },
    ],
  });

  // ---------------- (d) ----------------
  const d = timePair({
    r1: { l: 787, t: 668, w: 476, h: 95 }, r2: { l: 787, t: 814, w: 476, h: 95 },
    xs: { min: 0, max: 200, ticks: TIME200_TICKS },
    ys1: { min: -1, max: 1, ticks: CD_FORCE_TICKS },
    ys2: { min: -50, max: 50, ticks: CD_RESP_TICKS, fmt: nearestLabel(CD_RESP_TICKS, CD_RESP_TICK_LABELS) },
    exp: "{n|×10}{p|-11}", y1x: 755, y2x: 685,
  });
  line(d.p1, CD_FORCE, RED, 1.4);
  line(d.p2, CD_RESP, BLUE, 1.4);
  specPanel({
    r: { l: 758, t: 993, w: 503, h: 249 }, xs: { min: 0, max: 1, ticks: FREQ1_TICKS },
    drive: D_SPEC_DRIVE, resp: D_SPEC_RESP, peakDrive: D_PEAK_DRIVE, peakResp: D_PEAK_RESP, smooth: 0.3,
    title: "Normalized Spectra Comparison (Response of RM vs Drive)", yx: 727,
    ghz: [{ x: 926, y: 1015, t: "300.0 GHz", c: BLUE }, { x: 927, y: 1037, t: "305.0 GHz", c: RED }],
    leg: { x: 1049, tx: 1073, y1: 1015, y2: 1053 }, legSize: 24, mathSize: 28, mathLH: 28,
    formula: [
      { x: 927, y: 1115, t: "{mi|a}{si|J}{sr|0,b}{mr| = 0.00139}" },
      { x: 958, y: 1145, t: "{mi|J}{sr|b}{mr| = 0.2636 × 10}{sp|9}{mr| (A/cm}{sp|2}{mr|)}" },
      { x: 970, y: 1175, t: "{mi|α}{mr| = 0.01\u00A0\u00A0\u00A0\u00A0}{mi|k}{mr| = 0.016}" },
    ],
  });

  // dividers and panel letters
  seg(656, 0, 656, 588, "#000", 5);
  seg(656, 676, 656, 1288, "#000", 5);
  seg(10, 631, 1293, 631, "#000", 4);
  text(629, 608, "(a)", { size: 44, fill: "#222", lh: 40 });
  text(684, 608, "(b)", { size: 44, fill: "#222", lh: 40 });
  text(629, 655, "(c)", { size: 44, fill: "#222", lh: 40 });
  text(684, 655, "(d)", { size: 44, fill: "#222", lh: 40 });

  return {
    animation: false,
    backgroundColor: "#fff",
    grid, xAxis, yAxis, series,
    graphic: { elements: el },
  };
}

export default function App() {
  const ref = useRef<HTMLDivElement>(null);
  useEffect(() => {
    const chart = echarts.init(ref.current!, null, { renderer: "svg" });
    chart.setOption(buildOption() as any);
    return () => chart.dispose();
  }, []);
  return (
    <div
      ref={ref}
      style={{ position: "absolute", left: 0, top: 0, width: 1311, height: 1288, background: "#fff" }}
    />
  );
}
